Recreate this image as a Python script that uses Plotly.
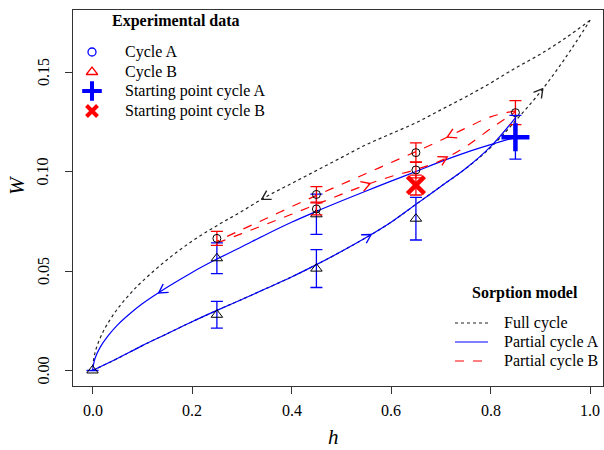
import numpy as np
import plotly.graph_objects as go

# ---------------- data ----------------
# Full-cycle sorption model (black dotted)
full_ads_h = [0.0, 0.05, 0.1, 0.15, 0.2, 0.25, 0.3, 0.35, 0.4, 0.45, 0.5, 0.55, 0.6, 0.65, 0.7, 0.75, 0.8, 0.85, 0.9, 0.95, 1.0]
full_ads_W = [0.0, 0.006, 0.0125, 0.0185, 0.0245, 0.0302, 0.0357, 0.0413, 0.047, 0.0532, 0.0598, 0.0668, 0.0745,
              0.0835, 0.0925, 0.1015, 0.112, 0.1255, 0.140, 0.157, 0.176]
full_des_h = [1.0, 0.95, 0.9, 0.85, 0.8, 0.75, 0.7, 0.65, 0.6, 0.55, 0.5, 0.45, 0.4, 0.35, 0.3, 0.25, 0.2, 0.15,
              0.1, 0.075, 0.05, 0.03, 0.02, 0.01, 0.005, 0.002, 0.0]
full_des_W = [0.176, 0.167, 0.159, 0.152, 0.1445, 0.1375, 0.131, 0.1245, 0.119, 0.1135, 0.107, 0.1005, 0.094,
              0.0875, 0.080, 0.0728, 0.065, 0.0557, 0.0448, 0.0384, 0.0309, 0.0234, 0.0188, 0.013, 0.0089, 0.005, 0.0]

# Partial cycle A (blue solid)
pA_des_h = [0.85, 0.8, 0.75, 0.7, 0.65, 0.6, 0.55, 0.5, 0.45, 0.4, 0.35, 0.3, 0.25, 0.2, 0.15, 0.1, 0.075,
            0.05, 0.03, 0.015, 0.005, 0.0]
pA_des_W = [0.1172, 0.1135, 0.1095, 0.105, 0.100, 0.0952, 0.0902, 0.0852, 0.080, 0.0745, 0.0685, 0.0622, 0.056,
            0.0493, 0.0418, 0.0335, 0.0285, 0.0228, 0.017, 0.0115, 0.006, 0.0]
pA_ads_h = [0.0, 0.05, 0.1, 0.15, 0.2, 0.25, 0.3, 0.35, 0.4, 0.45, 0.5, 0.55, 0.6, 0.65, 0.7, 0.75, 0.8, 0.85]
pA_ads_W = [0.0, 0.006, 0.0125, 0.0185, 0.0245, 0.0302, 0.0357, 0.0413, 0.047, 0.0532, 0.0598, 0.0668, 0.0745,
            0.0835, 0.0925, 0.1015, 0.1125, 0.127]

# Partial cycle B (red dashed)
pB_des_h = [0.85, 0.8, 0.75, 0.7, 0.65, 0.6, 0.55, 0.5, 0.45, 0.4, 0.35, 0.3, 0.25]
pB_des_W = [0.1305, 0.1275, 0.1218, 0.1157, 0.110, 0.1045, 0.099, 0.0935, 0.088, 0.0823, 0.0765, 0.0708, 0.065]
pB_ads_h = [0.25, 0.3, 0.35, 0.4, 0.45, 0.5, 0.55, 0.6, 0.65, 0.7, 0.75, 0.8, 0.85]
pB_ads_W = [0.064, 0.0688, 0.0736, 0.0785, 0.0835, 0.0885, 0.0933, 0.0975, 0.101, 0.1055, 0.1125, 0.1215, 0.130]

# Experimental data: cycle A (triangles, blue error bars)
expA_h = [0.0, 0.25, 0.45, 0.65, 0.25, 0.45]
expA_W = [0.0, 0.028, 0.0512, 0.0763, 0.0564, 0.0785]
expA_err = [0.0, 0.0067, 0.0095, 0.0107, 0.0077, 0.0101]
# Experimental data: cycle B (circles, red error bars)
expB_h = [0.25, 0.45, 0.45, 0.65, 0.65, 0.85]
expB_W = [0.0664, 0.0885, 0.0812, 0.1095, 0.1008, 0.1296]
expB_err = [0.0035, 0.0039, 0.003, 0.0049, 0.004, 0.006]
# Starting points
startA_h, startA_W, startA_err = [0.85], [0.1172], [0.011]
startB_h, startB_W, startB_err = [0.65], [0.0932], [0.005]

# Direction arrows along curves: (curve, h position, +1 = pointing to larger h)
arrows = [
    ("full_des", 0.34, -1, "#222222"),
    ("full_ads", 0.905, +1, "#222222"),
    ("pA_ads", 0.56, +1, "blue"),
    ("pA_des", 0.133, -1, "blue"),
    ("pB_des", 0.713, -1, "red"),
    ("pB_ads", 0.713, +1, "red"),
    ("pB_ads", 0.558, +1, "red"),
]

x_ticks = [0.0, 0.2, 0.4, 0.6, 0.8, 1.0]
x_ticklabels = ["0.0", "0.2", "0.4", "0.6", "0.8", "1.0"]
y_ticks = [0.0, 0.05, 0.10, 0.15]
y_ticklabels = ["0.00", "0.05", "0.10", "0.15"]

# ---------------- layout geometry ----------------
W_PX, H_PX = 604, 450
L, R, T, B = 73, 1, 10, 64
XR = [-0.0392, 1.026]
YR = [-0.0078, 0.1812]
px_per_x = (W_PX - L - R) / (XR[1] - XR[0])
px_per_y = (H_PX - T - B) / (YR[1] - YR[0])


def pxx(px):  # pixel -> paper x
    return (px - L) / (W_PX - L - R)


def pxy(py):  # pixel -> paper y
    return 1 - (py - T) / (H_PX - T - B)


FONT = "Liberation Serif"
curves = {
    "full_ads": (full_ads_h, full_ads_W),
    "full_des": (full_des_h, full_des_W),
    "pA_ads": (pA_ads_h, pA_ads_W),
    "pA_des": (pA_des_h, pA_des_W),
    "pB_ads": (pB_ads_h, pB_ads_W),
    "pB_des": (pB_des_h, pB_des_W),
}

fig = go.Figure()


def add_line(h, w, color, dash, width):
    fig.add_trace(go.Scatter(x=h, y=w, mode="lines", showlegend=False,
                             line=dict(color=color, dash=dash, width=width, shape="spline", smoothing=1.0),
                             hoverinfo="skip"))


add_line(full_ads_h, full_ads_W, "#222222", "dot", 1.2)
add_line(full_des_h, full_des_W, "#222222", "dot", 1.2)
add_line(pA_des_h, pA_des_W, "blue", "solid", 1.2)
add_line(pA_ads_h, pA_ads_W, "blue", "solid", 1.2)
add_line(pB_des_h, pB_des_W, "red", "dash", 1.2)
add_line(pB_ads_h, pB_ads_W, "red", "dash", 1.2)


def chevron(name, hpos, sgn, size=10, ang=30):
    h, w = curves[name]
    order = np.argsort(h)
    hs = np.array(h)[order]
    ws = np.array(w)[order]
    y0 = np.interp(hpos, hs, ws)
    d = 0.02
    slope = (np.interp(hpos + d, hs, ws) - np.interp(hpos - d, hs, ws)) / (2 * d)
    vx, vy = 1.0 * px_per_x, slope * px_per_y
    n = np.hypot(vx, vy)
    vx, vy = sgn * vx / n, sgn * vy / n
    xs, ys = [], []
    for a in (ang, None, -ang):
        if a is None:
            xs.append(hpos)
            ys.append(y0)
            continue
        t = np.radians(180 + a)
        bx = vx * np.cos(t) - vy * np.sin(t)
        by = vx * np.sin(t) + vy * np.cos(t)
        xs.append(hpos + bx * size / px_per_x)
        ys.append(y0 + by * size / px_per_y)
    return xs, ys


for name, hpos, sgn, col in arrows:
    ax, ay = chevron(name, hpos, sgn)
    fig.add_trace(go.Scatter(x=ax, y=ay, mode="lines", showlegend=False, hoverinfo="skip",
                             line=dict(color=col, width=1.4)))

# experimental data
fig.add_trace(go.Scatter(x=expA_h, y=expA_W, mode="markers", showlegend=False,
                         marker=dict(symbol="triangle-up-open", size=10, color="black", line=dict(width=1)),
                         error_y=dict(type="data", array=expA_err, color="blue", thickness=1.3, width=6)))
fig.add_trace(go.Scatter(x=expB_h, y=expB_W, mode="markers", showlegend=False,
                         marker=dict(symbol="circle-open", size=8, color="black", line=dict(width=1)),
                         error_y=dict(type="data", array=expB_err, color="red", thickness=1.3, width=6)))
fig.add_trace(go.Scatter(x=startA_h, y=startA_W, mode="markers", showlegend=False,
                         marker=dict(symbol="cross-thin-open", size=20, color="blue", line=dict(width=4.5, color="blue")),
                         error_y=dict(type="data", array=startA_err, color="blue", thickness=1.3, width=6)))
fig.add_trace(go.Scatter(x=startB_h, y=startB_W, mode="markers", showlegend=False,
                         marker=dict(symbol="x-thin-open", size=17, color="red", line=dict(width=4.5, color="red")),
                         error_y=dict(type="data", array=startB_err, color="red", thickness=1.3, width=6)))

# ---------------- manual legends (overlay axes in pixel units) ----------------
ann = []
leg1_title = ("Experimental data", 176, 21)
leg1_items = [
    ("Cycle A", 52, dict(symbol="circle-open", size=8, color="blue", line=dict(width=1.3, color="blue"))),
    ("Cycle B", 72, dict(symbol="triangle-up-open", size=10, color="red", line=dict(width=1.3, color="red"))),
    ("Starting point cycle A", 91, dict(symbol="cross-thin-open", size=14, color="blue", line=dict(width=4, color="blue"))),
    ("Starting point cycle B", 111, dict(symbol="x-thin-open", size=11, color="red", line=dict(width=4, color="red"))),
]
ann.append(dict(x=leg1_title[1], y=leg1_title[2], xref="x2", yref="y2", text="<b>%s</b>" % leg1_title[0],
                showarrow=False, font=dict(family=FONT, size=16, color="black"), xanchor="center", yanchor="middle"))
for text, yy, mk in leg1_items:
    fig.add_trace(go.Scatter(x=[92], y=[yy], xaxis="x2", yaxis="y2", mode="markers", marker=mk,
                             showlegend=False, hoverinfo="skip"))
    ann.append(dict(x=123, y=yy, xref="x2", yref="y2", text=text, showarrow=False,
                    font=dict(family=FONT, size=16, color="black"), xanchor="left", yanchor="middle"))

ann.append(dict(x=525, y=293, xref="x2", yref="y2", text="<b>Sorption model</b>", showarrow=False,
                font=dict(family=FONT, size=16, color="black"), xanchor="center", yanchor="middle"))
leg2_items = [
    ("Full cycle", 323, "#222222", "dot"),
    ("Partial cycle A", 342, "blue", "solid"),
    ("Partial cycle B", 361, "red", "dash"),
]
for text, yy, col, dash in leg2_items:
    fig.add_trace(go.Scatter(x=[455, 488], y=[yy, yy], xaxis="x2", yaxis="y2", mode="lines",
                             line=dict(color=col, dash=dash, width=1.2), showlegend=False, hoverinfo="skip"))
    ann.append(dict(x=502, y=yy, xref="x2", yref="y2", text=text, showarrow=False,
                    font=dict(family=FONT, size=16, color="black"), xanchor="left", yanchor="middle"))

# tick labels and axis titles as text annotations (serif font), placed in paper space
for tv, tt in zip(x_ticks, x_ticklabels):
    ann.append(dict(x=tv, y=pxy(410), xref="x", yref="paper", text=tt, showarrow=False,
                    font=dict(family=FONT, size=16, color="black"), xanchor="center", yanchor="middle"))
for tv, tt in zip(y_ticks, y_ticklabels):
    ann.append(dict(x=pxx(43), y=tv, xref="paper", yref="y", text=tt, showarrow=False, textangle=-90,
                    font=dict(family=FONT, size=16, color="black"), xanchor="center", yanchor="middle"))
ann.append(dict(x=pxx(333), y=pxy(437), xref="paper", yref="paper", text="<i>h</i>", showarrow=False,
                font=dict(family=FONT, size=21, color="black"), xanchor="center", yanchor="middle"))
ann.append(dict(x=pxx(17), y=pxy(185), xref="paper", yref="paper", text="<i>W</i>", showarrow=False,
                textangle=-90, font=dict(family=FONT, size=21, color="black"), xanchor="center", yanchor="middle"))

axis_common = dict(showgrid=False, zeroline=False, showline=True, linecolor="#333333", linewidth=1,
                   mirror=True, ticks="outside", ticklen=7, tickwidth=1, tickcolor="#333333",
                   showticklabels=False)

fig.update_layout(
    width=W_PX, height=H_PX,
    margin=dict(l=L, r=R, t=T, b=B),
    font=dict(family=FONT, size=16, color="black"),
    paper_bgcolor="white", plot_bgcolor="white",
    showlegend=False,
    xaxis=dict(range=XR, tickvals=x_ticks, **axis_common),
    yaxis=dict(range=YR, tickvals=y_ticks, **axis_common),
    xaxis2=dict(range=[L, W_PX - R], overlaying="x", anchor="y2", visible=False, fixedrange=True),
    yaxis2=dict(range=[H_PX - B, T], overlaying="y", anchor="x2", visible=False, fixedrange=True),
    annotations=ann,
)

fig.write_html("out.html")
